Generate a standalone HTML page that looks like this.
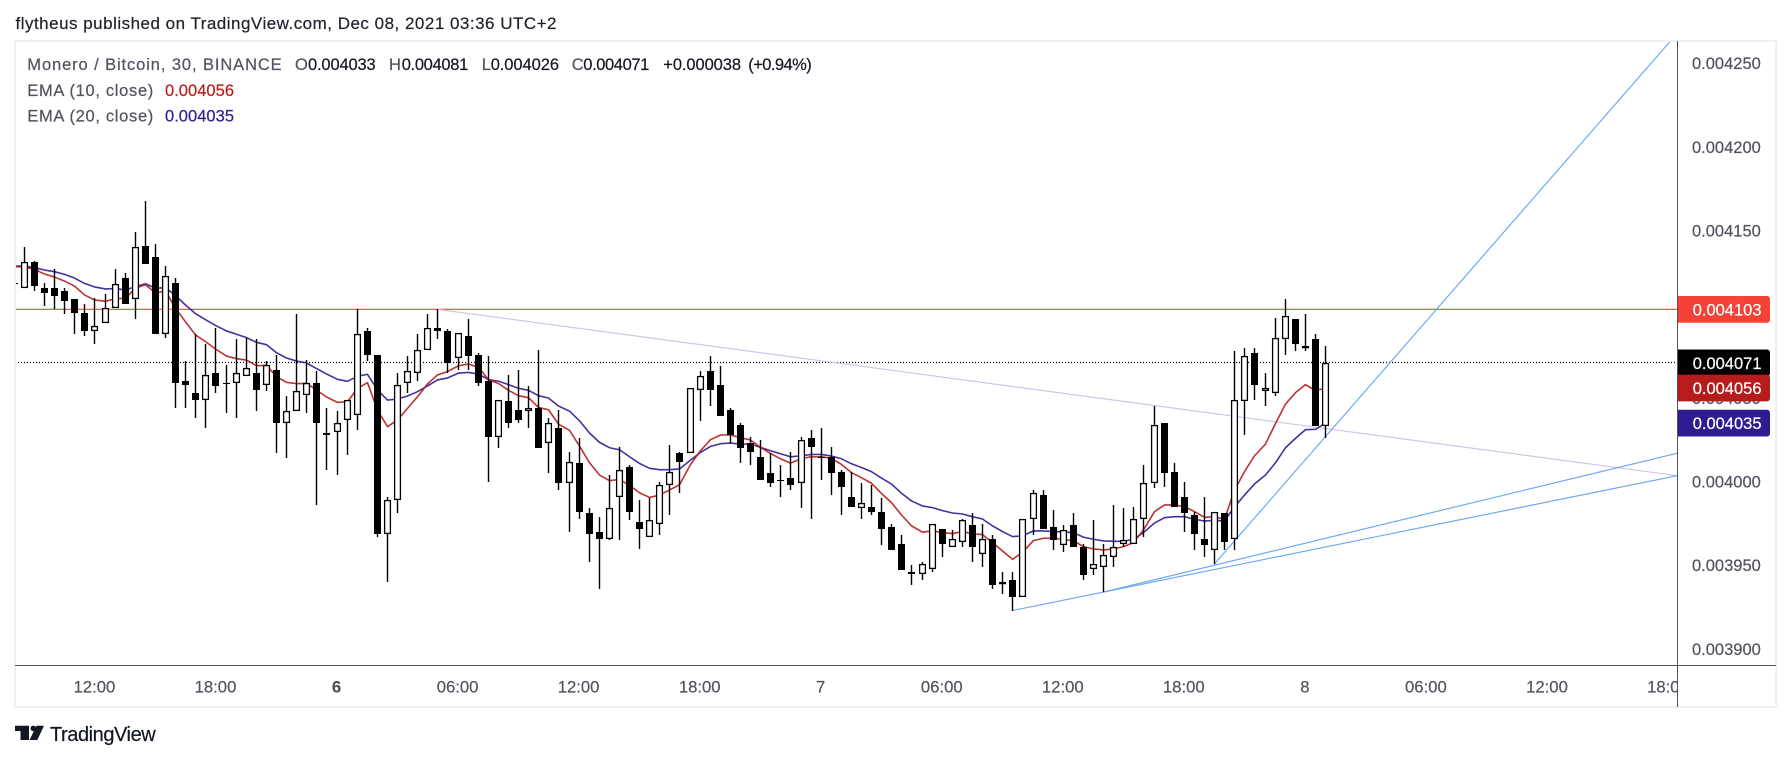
<!DOCTYPE html>
<html lang="en">
<head>
<meta charset="utf-8">
<title>Monero / Bitcoin chart</title>
<style>
html,body{margin:0;padding:0;background:#fff;width:1791px;height:760px;overflow:hidden}
svg{display:block;font-family:"Liberation Sans",sans-serif}
text{stroke-width:0.2px;stroke:currentColor}
.gray{fill:#50535e;color:#50535e}
.val{fill:#131722;color:#131722}
</style>
</head>
<body>
<svg id="chart" xmlns="http://www.w3.org/2000/svg" width="1791" height="760" viewBox="0 0 1791 760">
  <defs>
    <clipPath id="plot-clip"><rect x="16" y="42" width="1661" height="623"/></clipPath>
    <clipPath id="time-clip"><rect x="16" y="666" width="1661" height="40"/></clipPath>
    <clipPath id="price-clip"><rect x="1678" y="42" width="97" height="623"/></clipPath>
  </defs>
  <rect x="0" y="0" width="1791" height="760" fill="#ffffff"/>
  <text x="15.5" y="29" font-size="17" fill="#1e222d" color="#1e222d" textLength="541" lengthAdjust="spacing">flytheus published on TradingView.com, Dec 08, 2021 03:36 UTC+2</text>
  <rect x="15" y="41" width="1761" height="666" fill="none" stroke="#f0f1f7" stroke-width="2"/>
  <g id="plot-lines" clip-path="url(#plot-clip)"></g>
  <g id="candles" clip-path="url(#plot-clip)"></g>
  <g id="y-axis" clip-path="url(#price-clip)"></g>
  <g id="x-axis" clip-path="url(#time-clip)"></g>
  <line x1="15" y1="665.5" x2="1776" y2="665.5" stroke="#50535e" stroke-width="1"/>
  <line x1="1677.5" y1="41" x2="1677.5" y2="707" stroke="#50535e" stroke-width="1"/>
  <g id="price-labels"></g>

  <g font-size="16.5">
    <text class="gray" x="27.3" y="70" textLength="254.4" lengthAdjust="spacing">Monero / Bitcoin, 30, BINANCE</text>
    <text class="gray" x="295" y="70">O</text>
    <text class="val" x="308" y="70" textLength="67.7">0.004033</text>
    <text class="gray" x="389" y="70">H</text>
    <text class="val" x="401.7" y="70" textLength="66.6">0.004081</text>
    <text class="gray" x="481.7" y="70">L</text>
    <text class="val" x="490.7" y="70" textLength="68.3">0.004026</text>
    <text class="gray" x="571.7" y="70">C</text>
    <text class="val" x="583.3" y="70" textLength="66">0.004071</text>
    <text class="val" x="663.3" y="70" textLength="77.7">+0.000038</text>
    <text class="val" x="748.3" y="70" textLength="63.4">(+0.94%)</text>
    <text class="gray" x="27.3" y="96" textLength="126" lengthAdjust="spacing">EMA (10, close)</text>
    <text fill="#b71c1c" color="#b71c1c" x="165" y="96" textLength="69">0.004056</text>
    <text class="gray" x="27.3" y="121.7" textLength="126" lengthAdjust="spacing">EMA (20, close)</text>
    <text fill="#311b92" color="#311b92" x="165" y="121.7" textLength="69">0.004035</text>
  </g>

  <g>
    <path d="M15 725.7H29V740H20.5V731H15Z" fill="#131722"/>
    <circle cx="33.3" cy="728.4" r="2.8" fill="#131722"/>
    <path d="M36.5 725.7H44L37.3 740H29.5Z" fill="#131722"/>
    <text x="50" y="741" font-size="20" fill="#131722" color="#131722" textLength="105.7" lengthAdjust="spacing">TradingView</text>
  </g>
</svg>
<script>
// All prices are in units of 0.000001 BTC
const opens = [4119,4116,4131,4116,4116,4114,4109,4101,4090,4095,
4104,4122,4109,4141,4134,4088,4119,4060,4053,4049,
4065,4059,4059,4063,4065,4058,4067,4035,4042,4052,
4059,4029,4030,4037,4040,4090,4076,3969,3989,4059,
4065,4079,4092,4090,4074,4087,4076,4060,4027,4048,
4043,4042,4044,4023,4032,3999,4011,3981,3970,3966,
3991,4009,3976,3967,3975,3998,4017,4017,4055,4066,
4058,4043,4034,4023,4015,4005,4001,4002,3999,4026,
4015,4015,4006,3991,3984,3985,3982,3973,3963,3946,
3945,3948,3972,3961,3964,3974,3957,3966,3939,3941,
3931,3978,3992,3973,3962,3974,3961,3948,3949,3955,
3963,3963,3978,3999,4035,4006,3991,3980,3966,3959,
3981,3966,4048,4077,4054,4053,4085,4097,4080,4085,4033];
const highs = [4119,4140,4132,4119,4127,4116,4109,4106,4110,4112,
4127,4125,4149,4168,4142,4129,4122,4072,4088,4082,
4092,4070,4085,4086,4085,4072,4076,4051,4100,4073,
4066,4044,4042,4049,4103,4092,4076,3991,4065,4075,
4088,4100,4103,4091,4089,4097,4077,4075,4049,4064,
4067,4057,4079,4038,4043,4018,4026,3984,3979,4004,
4021,4010,3989,3990,4000,4022,4018,4056,4066,4075,
4069,4044,4035,4027,4025,4017,4010,4018,4027,4031,
4032,4021,4007,4006,3999,3998,3990,3975,3968,3950,
3952,3975,3972,3971,3978,3981,3975,3968,3946,3946,
3978,3995,3995,3983,3974,3981,3963,3977,3963,3986,
3984,3985,4010,4045,4035,4011,4000,3982,3991,3982,
3981,4078,4080,4080,4065,4098,4109,4097,4100,4088,4081];
const lows = [4118,4116,4114,4105,4103,4100,4088,4087,4082,4095,
4104,4106,4097,4130,4088,4086,4044,4044,4038,4032,
4053,4041,4038,4063,4042,4054,4017,4014,4042,4041,
3986,4007,4004,4016,4031,4072,3967,3940,3981,4053,
4060,4079,4085,4065,4067,4067,4057,4000,4020,4032,
4035,4032,4020,4005,3995,3970,3978,3952,3936,3965,
3965,3977,3960,3967,3968,3980,3993,4017,4036,4045,
4039,4023,4011,4010,4001,3997,3991,3995,3984,3978,
4001,3992,3980,3985,3978,3980,3962,3959,3947,3938,
3941,3946,3955,3961,3961,3952,3949,3936,3933,3923,
3931,3968,3972,3959,3958,3961,3941,3944,3934,3949,
3961,3963,3967,3996,3997,3985,3970,3959,3955,3951,
3959,3959,4028,4049,4045,4051,4076,4078,4078,4033,4026];
const closes = [4118,4131,4117,4113,4111,4108,4101,4090,4093,4104,
4118,4106,4140,4130,4088,4123,4059,4058,4049,4064,
4057,4059,4065,4068,4055,4070,4035,4042,4054,4059,
4035,4028,4035,4049,4088,4076,3969,3989,4058,4066,
4079,4092,4090,4071,4089,4075,4059,4027,4049,4035,
4037,4044,4020,4035,3999,4012,3982,3969,3966,3984,
4007,3982,3972,3977,3998,4006,4012,4056,4063,4055,
4039,4028,4020,4018,4001,3999,4001,3998,4025,4021,
4014,4005,3997,3985,3987,3982,3972,3959,3947,3945,
3951,3975,3963,3966,3977,3961,3966,3938,3940,3931,
3978,3993,3972,3965,3971,3961,3944,3951,3956,3961,
3965,3978,3999,4034,4005,3985,3981,3969,3962,3982,
3964,4049,4075,4058,4056,4086,4099,4082,4081,4033,4071];
const ema10 = [4128.5,4128.3,4126.9,4124.1,4122.3,4119.9,4116.9,4111.6,4108.6,4107.8,
4109.4,4109.6,4115.8,4117.7,4112.8,4114.0,4103.6,4095.6,4087.7,4083.7,
4079.3,4075.1,4073.5,4072.7,4069.3,4069.5,4062.8,4059.4,4058.6,4058.8,
4054.8,4050.6,4047.4,4047.8,4055.8,4059.2,4042.8,4032.9,4036.9,4043.8,
4050.8,4058.4,4063.8,4065.8,4069.3,4070.3,4068.3,4061.0,4058.7,4054.6,
4051.4,4050.2,4044.4,4043.0,4034.4,4030.7,4021.3,4011.3,4004.0,4000.6,
4001.4,3997.8,3993.4,3990.6,3992.0,3995.0,3998.2,4010.3,4018.5,4025.1,
4027.9,4027.9,4026.3,4024.9,4020.5,4016.9,4013.7,4011.1,4013.9,4014.9,
4014.9,4013.9,4010.3,4005.4,4002.4,3999.0,3993.0,3987.5,3980.1,3973.6,
3969.8,3970.6,3969.6,3969.0,3970.2,3968.8,3968.4,3963.6,3958.6,3953.6,
3957.8,3964.8,3966.2,3966.2,3965.6,3964.6,3961.2,3959.8,3959.2,3959.8,
3961.2,3963.6,3971.2,3982.1,3986.1,3986.1,3985.1,3982.1,3978.7,3979.1,
3977.5,3995.0,4006.0,4015.5,4022.5,4034.8,4046.4,4053.2,4058.0,4054.4,4056];
const ema20 = [4128.9,4128.9,4127.9,4126.5,4125.5,4123.9,4121.7,4118.5,4116.4,4115.2,
4115.4,4114.6,4116.6,4118.3,4115.6,4116.0,4111.2,4105.6,4100.4,4096.8,
4093.4,4090.1,4088.1,4086.1,4083.3,4081.9,4077.1,4073.9,4072.1,4071.0,
4067.6,4064.4,4061.2,4060.0,4063.0,4064.2,4054.8,4048.8,4049.4,4051.2,
4053.8,4057.2,4060.8,4062.0,4064.9,4065.3,4064.3,4061.0,4060.1,4058.0,
4055.8,4054.6,4051.4,4050.0,4045.2,4042.2,4036.4,4029.1,4023.5,4020.3,
4019.1,4014.9,4010.9,4008.0,4007.2,4007.2,4007.6,4012.9,4017.5,4021.1,
4022.7,4023.1,4022.5,4022.5,4020.5,4018.5,4016.7,4014.9,4015.5,4016.3,
4016.3,4015.3,4013.7,4010.7,4008.5,4006.0,4002.2,3998.6,3993.1,3988.5,
3985.5,3984.5,3982.7,3981.3,3980.7,3979.1,3977.7,3973.6,3970.2,3967.2,
3967.6,3970.6,3970.6,3970.2,3970.0,3969.6,3966.8,3965.6,3964.6,3964.4,
3964.4,3965.6,3969.6,3975.3,3978.5,3979.1,3979.1,3977.5,3976.5,3976.9,
3976.5,3985.0,3992.0,3998.6,4004.0,4011.3,4020.3,4025.9,4031.1,4031.3,4035];
const yTickValues = [4250,4200,4150,4100,4050,4000,3950,3900];
const xTickLabels = ['12:00','18:00','6','06:00','12:00','18:00','7','06:00','12:00','18:00','8','06:00','12:00','18:00'];
const xTickIndexes = [8,20,32,44,56,68,80,92,104,116,128,140,152,164];
const resistanceLevel = [4103];
const lastClose = [4071];
const ema10Last = [4056];
const ema20Last = [4035];
// Trendlines: start bar, start price, end bar, end price
const steepTrend = [119,3950.6,164.25,4263.4];
const upperSupport = [108,3934,164.9,4017];
const lowerSupport = [99,3923,164.9,4003.6];
const fallingTrend = [42,4103,164.9,4003.6];

const NS = 'http://www.w3.org/2000/svg';
const yScale = p => 481.7 - (p - 4000) * 1.6733;
const xRaw = i => 13.75 + 10.087 * i;
const xScale = i => Math.round(xRaw(i));
const fmt = v => (v / 1e6).toFixed(6);

function make(parent, tag, attrs, text) {
  const el = document.createElementNS(NS, tag);
  for (const k in attrs) el.setAttribute(k, attrs[k]);
  if (text !== undefined) el.textContent = text;
  parent.appendChild(el);
  return el;
}

const linesGroup = document.getElementById('plot-lines');
const candleGroup = document.getElementById('candles');
const yGroup = document.getElementById('y-axis');
const xGroup = document.getElementById('x-axis');
const labelGroup = document.getElementById('price-labels');

// Resistance and last price lines
const resistanceLine = make(linesGroup, 'line', {x1:15, x2:1677, y1:yScale(resistanceLevel[0]), y2:yScale(resistanceLevel[0]), stroke:'#f44336', 'stroke-width':1.1});


const lastPriceLine = make(linesGroup, 'line', {x1:15, x2:1675, y1:Math.floor(yScale(lastClose[0])) + 0.5, y2:Math.floor(yScale(lastClose[0])) + 0.5, stroke:'#000', 'stroke-width':1.2, 'stroke-dasharray':'1 2'});



// Trendlines
function trendPath(t) {
  return {x1:xRaw(t[0]), y1:yScale(t[1]), x2:xRaw(t[2]), y2:yScale(t[3])};
}
const fallingLine = make(linesGroup, 'line', Object.assign(trendPath(fallingTrend), {stroke:'#d1c4e9', 'stroke-width':1.2}));


const steepLine = make(linesGroup, 'line', Object.assign(trendPath(steepTrend), {stroke:'#6fa9f5', 'stroke-width':1.2}));


const upperLine = make(linesGroup, 'line', Object.assign(trendPath(upperSupport), {stroke:'#6fa9f5', 'stroke-width':1.2}));


const lowerLine = make(linesGroup, 'line', Object.assign(trendPath(lowerSupport), {stroke:'#6fa9f5', 'stroke-width':1.2}));



// EMA lines
function linePoints(values) {
  return values.map((v, i) => (xScale(i) + 0.5) + ',' + yScale(v).toFixed(2)).join(' ');
}
const ema20Line = make(linesGroup, 'polyline', {points:linePoints(ema20), fill:'none', stroke:'#311b92', 'stroke-width':1.6, 'stroke-linejoin':'round', 'stroke-opacity':0.9});


const ema10Line = make(linesGroup, 'polyline', {points:linePoints(ema10), fill:'none', stroke:'#b71c1c', 'stroke-width':1.6, 'stroke-linejoin':'round', 'stroke-opacity':0.9});



// Candles
closes.forEach((c, i) => {
  const o = opens[i];
  const n = xScale(i);
  const group = make(candleGroup, 'g', {});
  
  
  const yHigh = Math.round(yScale(highs[i]));
  const yLow = Math.round(yScale(lows[i]));
  const wick = make(group, 'rect', {x:n - 0.2, y:yHigh, width:1.4, height:Math.max(1, yLow - yHigh), fill:'#000'});
  
  
  const yTop = Math.round(yScale(Math.max(o, c)));
  const yBot = Math.round(yScale(Math.min(o, c)));
  const rising = c > o;
  const bodyAttrs = rising
    ? {x:n - 2.4, y:yTop + 0.6, width:5.8, height:Math.max(1, yBot - yTop - 1.2), fill:'#fff', stroke:'#000', 'stroke-width':1.3}
    : {x:n - 3, y:yTop, width:7, height:Math.max(1, yBot - yTop), fill:'#000'};
  const body = make(group, 'rect', bodyAttrs);
  
  
});

// Price axis ticks
yTickValues.forEach(v => {
  const t = make(yGroup, 'text', {x:1692, y:(yScale(v) + 5.8).toFixed(1), 'font-size':16.5, fill:'#50535e', color:'#50535e'}, fmt(v));
  
  
});

// Time axis ticks
xTickLabels.forEach((label, k) => {
  const t = make(xGroup, 'text', {x:xRaw(xTickIndexes[k]).toFixed(1), y:692.3, 'font-size':16.7, fill:'#50535e', color:'#50535e', 'text-anchor':'middle', 'font-weight':label === '6' ? 'bold' : 'normal'}, label);
  
  
});

// Price labels on the axis
function priceLabel(value, color) {
  const cy = yScale(value);
  const top = cy - 13.35;
  const g = make(labelGroup, 'g', {});
  
  
  const d = 'M1678 ' + top + 'H1767a3 3 0 0 1 3 3V' + (top + 23.7) + 'a3 3 0 0 1 -3 3H1678Z';
  const bg = make(g, 'path', {d:d, fill:color});
  
  
  const t = make(g, 'text', {x:1692.7, y:(cy + 5.9).toFixed(1), 'font-size':16.5, fill:'#fff', color:'#fff'}, fmt(value));
  
  
}
priceLabel(resistanceLevel[0], '#f44336');
priceLabel(lastClose[0], '#000000');
priceLabel(ema10Last[0], '#b71c1c');
priceLabel(ema20Last[0], '#311b92');
</script>
</body>
</html>
